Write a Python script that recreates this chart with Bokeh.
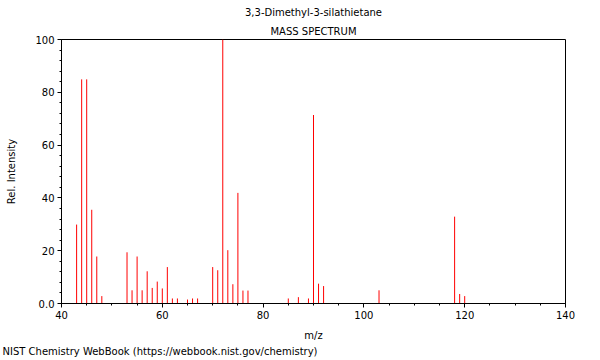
from bokeh.plotting import figure
from bokeh.models import Range1d, SingleIntervalTicker, Title, ColumnDataSource
from bokeh.embed import file_html
from bokeh.resources import INLINE

# m/z values and relative intensities
mz = [43, 44, 45, 46, 47, 48, 53, 54, 55, 56, 57, 58, 59, 60, 61, 62, 63, 65, 66, 67,
      70, 71, 72, 73, 74, 75, 76, 77, 85, 87, 89, 90, 91, 92, 103, 118, 119, 120]
intensity = [29.9, 84.9, 84.9, 35.5, 17.8, 2.8, 19.4, 5.0, 17.8, 5.0, 12.2, 5.9, 8.3, 5.7,
             13.8, 1.9, 1.9, 1.5, 1.9, 1.9, 13.8, 12.6, 100, 20.2, 7.3, 41.9, 4.9, 4.9,
             1.9, 2.4, 1.9, 71.4, 7.5, 6.6, 5.0, 32.9, 3.6, 2.8]
baseline = [0] * len(mz)

compound = "3,3-Dimethyl-3-silathietane"
subtitle = "MASS SPECTRUM"
footer = "NIST Chemistry WebBook (https://webbook.nist.gov/chemistry)"
x_label = "m/z"
y_label = "Rel. Intensity"

FONT = "DejaVu Sans"
FS = "10px"

src = ColumnDataSource(dict(mz=mz, intensity=intensity, base=baseline))

p = figure(width=590, height=358, x_range=Range1d(40, 140), y_range=Range1d(0, 100),
           output_backend="svg", toolbar_location=None,
           min_border_left=61, min_border_right=25, min_border_top=39, min_border_bottom=55)

p.segment(x0="mz", y0="base", x1="mz", y1="intensity", source=src,
          line_color="red", line_width=1)

p.xgrid.visible = False
p.ygrid.visible = False
p.outline_line_color = "black"
p.outline_line_width = 1
p.background_fill_color = "white"
p.border_fill_color = "white"

p.xaxis.ticker = SingleIntervalTicker(interval=20, num_minor_ticks=4)
p.yaxis.ticker = SingleIntervalTicker(interval=20, num_minor_ticks=5)
p.yaxis.major_label_overrides = {0: "0.0"}

for ax in (p.xaxis[0], p.yaxis[0]):
    ax.axis_line_color = "black"
    ax.major_tick_line_color = "black"
    ax.minor_tick_line_color = "black"
    ax.major_tick_in = 0
    ax.major_tick_out = 4
    ax.minor_tick_in = 0
    ax.minor_tick_out = 2
    ax.major_label_text_font = FONT
    ax.major_label_text_font_size = FS
    ax.major_label_text_color = "black"
    ax.major_label_standoff = 3
    ax.axis_label_text_font = FONT
    ax.axis_label_text_font_size = FS
    ax.axis_label_text_font_style = "normal"
    ax.axis_label_text_color = "black"

p.xaxis.axis_label = x_label
p.xaxis.axis_label_standoff = 8
p.yaxis.axis_label = y_label
p.yaxis.axis_label_standoff = 15

p.title.text = compound
p.title.align = "center"
p.title.text_font = FONT
p.title.text_font_size = FS
p.title.text_font_style = "normal"
p.title.text_color = "black"
p.title.standoff = 5

p.add_layout(Title(text=subtitle, align="center", text_font=FONT, text_font_size=FS,
                   text_font_style="normal", text_color="black", standoff=6), "above")

p.add_layout(Title(text=footer, align="left", offset=-59, text_font=FONT, text_font_size=FS,
                   text_font_style="normal", text_color="black", standoff=1), "below")

open("out.html", "w").write(file_html(p, INLINE))
